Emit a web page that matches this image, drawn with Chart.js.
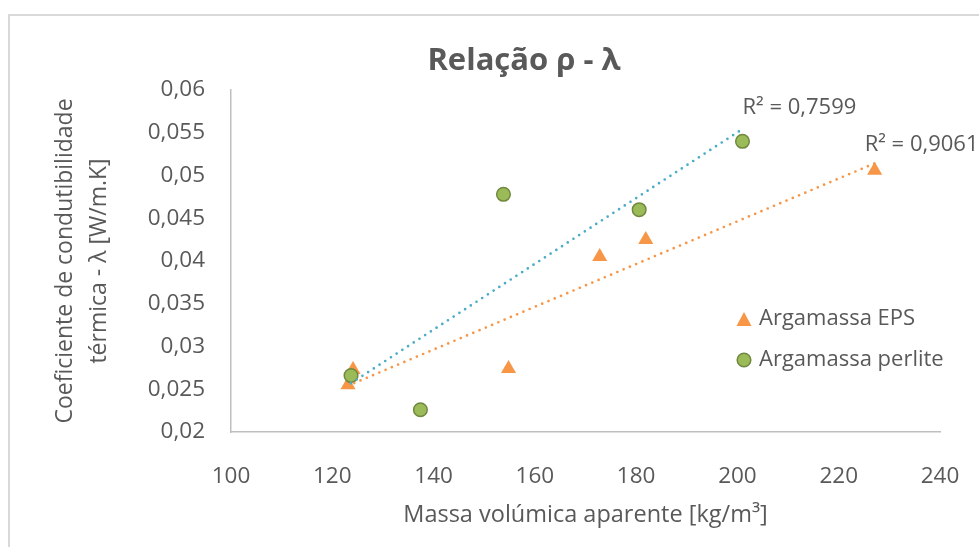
<!DOCTYPE html>
<html>
<head>
<meta charset="utf-8">
<script src="https://cdn.jsdelivr.net/npm/chart.js@4/dist/chart.umd.min.js"></script>
<style>
  html, body { margin: 0; padding: 0; background: #fff; }
  #wrap { width: 979px; height: 547px; }
</style>
</head>
<body>
<div id="wrap"><canvas id="rhoLambda" width="979" height="547"></canvas></div>
<script>
// bulk density [kg/m3] vs thermal conductivity [W/m.K]
const epsDensity = [123.1, 124.1, 154.8, 172.8, 181.9, 227.1];
const epsLambda = [0.0255, 0.0273, 0.0274, 0.0405, 0.0425, 0.0506];
const perliteDensity = [123.7, 137.4, 153.8, 180.6, 201.0];
const perliteLambda = [0.0266, 0.0226, 0.0478, 0.0460, 0.0540];
const seriesNames = ['Argamassa EPS', 'Argamassa perlite'];
const r2Labels = ['R² = 0,9061', 'R² = 0,7599'];
const xTicks = [100, 240, 20];
const yTicks = [0.02, 0.06, 0.005];

const TEXT = '#595959';
const ORANGE = '#F79646';
const BLUE = '#4BACC6';
const GREEN = '#9BBB59';
const GREEN_EDGE = '#71893F';
const FONT = '"Open Sans", "Noto Sans", sans-serif';

Chart.defaults.font.family = FONT;
Chart.defaults.color = TEXT;

function toPoints(xs, ys) {
    return xs.map((x, i) => ({x: x, y: ys[i]}));
}

// least squares line, from the smallest to the largest x of the series
function linearTrend(xs, ys) {
    const n = xs.length;
    const mx = xs.reduce((a, b) => a + b, 0) / n;
    const my = ys.reduce((a, b) => a + b, 0) / n;
    let sxy = 0, sxx = 0;
    xs.forEach((x, i) => {
        sxy += (x - mx) * (ys[i] - my);
        sxx += (x - mx) * (x - mx);
    });
    const slope = sxy / sxx;
    const x0 = Math.min(...xs), x1 = Math.max(...xs);
    return [{x: x0, y: my + slope * (x0 - mx)}, {x: x1, y: my + slope * (x1 - mx)}];
}

function commaNumber(v) {
    return String(Number(v.toFixed(4))).replace('.', ',');
}

// frame, title, legend and R² labels
const decorations = {
    id: 'decorations',
    beforeDraw(chart) {
        const ctx = chart.ctx;
        ctx.save();
        ctx.fillStyle = '#fff';
        ctx.fillRect(0, 0, chart.width, chart.height);
        ctx.strokeStyle = '#d9d9d9';
        ctx.lineWidth = 2;
        ctx.strokeRect(9, 15, chart.width + 40, chart.height + 40);
        ctx.restore();
    },
    afterDraw(chart) {
        const ctx = chart.ctx;
        const area = chart.chartArea;
        ctx.save();
        ctx.fillStyle = TEXT;
        ctx.textBaseline = 'middle';

        ctx.textAlign = 'center';
        ctx.font = 'bold 31px ' + FONT;
        ctx.fillText('Relação ρ - λ', 524, 61);

        // R² next to the end of each trendline
        ctx.textAlign = 'left';
        ctx.font = '22px ' + FONT;
        const offsets = [[-10, -19], [0, -21]];
        [2, 3].forEach((dsIndex, i) => {
            const end = chart.getDatasetMeta(dsIndex).data[1];
            ctx.fillText(r2Labels[i], end.x + offsets[i][0], end.y + offsets[i][1]);
        });

        // legend
        const lx = area.right - 196;
        const rows = [area.top + 229, area.top + 270];
        ctx.fillStyle = ORANGE;
        ctx.beginPath();
        ctx.moveTo(lx, rows[0] - 7);
        ctx.lineTo(lx + 7.5, rows[0] + 7);
        ctx.lineTo(lx - 7.5, rows[0] + 7);
        ctx.closePath();
        ctx.fill();

        ctx.beginPath();
        ctx.arc(lx, rows[1], 6.8, 0, Math.PI * 2);
        ctx.fillStyle = GREEN;
        ctx.fill();
        ctx.lineWidth = 1.5;
        ctx.strokeStyle = GREEN_EDGE;
        ctx.stroke();

        ctx.fillStyle = TEXT;
        ctx.fillText(seriesNames[0], lx + 15, rows[0]);
        ctx.fillText(seriesNames[1], lx + 15, rows[1]);
        ctx.restore();
    }
};

const ctx = document.getElementById('rhoLambda');
new Chart(ctx, {
    type: 'scatter',
    data: {
        datasets: [
            {
                label: seriesNames[1],
                data: toPoints(perliteDensity, perliteLambda),
                pointStyle: 'circle',
                pointRadius: 6.8,
                backgroundColor: GREEN,
                borderColor: GREEN_EDGE,
                borderWidth: 1.5,
                order: 1
            },
            {
                label: seriesNames[0],
                data: toPoints(epsDensity, epsLambda),
                pointStyle: 'triangle',
                pointRadius: 8.7,
                backgroundColor: ORANGE,
                borderColor: ORANGE,
                borderWidth: 0,
                order: 2
            },
            {
                type: 'line',
                label: 'Linear (' + seriesNames[0] + ')',
                data: linearTrend(epsDensity, epsLambda),
                borderColor: ORANGE,
                borderWidth: 2.7,
                borderDash: [0, 6.8],
                borderCapStyle: 'round',
                pointRadius: 0,
                fill: false,
                order: 0
            },
            {
                type: 'line',
                label: 'Linear (' + seriesNames[1] + ')',
                data: linearTrend(perliteDensity, perliteLambda),
                borderColor: BLUE,
                borderWidth: 2.7,
                borderDash: [0, 6.8],
                borderCapStyle: 'round',
                pointRadius: 0,
                fill: false,
                order: 0
            }
        ]
    },
    options: {
        responsive: false,
        devicePixelRatio: 1,
        animation: false,
        events: [],
        layout: {padding: {top: 90, right: 39, bottom: 0, left: 0}},
        scales: {
            x: {
                type: 'linear',
                min: xTicks[0],
                max: xTicks[1],
                ticks: {stepSize: xTicks[2], padding: 23, color: TEXT, font: {size: 22.5}},
                grid: {display: false},
                border: {display: true, color: '#bfbfbf', width: 1.5},
                title: {
                    display: true,
                    text: 'Massa volúmica aparente [kg/m³]',
                    color: TEXT,
                    font: {size: 23.5},
                    padding: {top: 0, bottom: 18}
                },
                afterFit: (scale) => {
                    scale.height = 115;
                    scale.paddingLeft = 0;
                    scale.paddingRight = 0;
                }
            },
            y: {
                type: 'linear',
                min: yTicks[0],
                max: yTicks[1],
                ticks: {
                    stepSize: yTicks[2],
                    padding: 18,
                    color: TEXT,
                    font: {size: 22.5},
                    callback: (v) => commaNumber(v)
                },
                grid: {display: false},
                border: {display: true, color: '#bfbfbf', width: 1.5},
                title: {
                    display: true,
                    text: ['Coeficiente de condutibilidade', 'térmica - λ [W/m.K]'],
                    color: TEXT,
                    font: {size: 23, lineHeight: 1.45},
                    padding: {top: 49, bottom: 0}
                },
                afterFit: (scale) => { scale.width = 231; }
            }
        },
        plugins: {
            legend: {display: false},
            title: {display: false},
            tooltip: {enabled: false}
        }
    },
    plugins: [decorations]
});
</script>
</body>
</html>
